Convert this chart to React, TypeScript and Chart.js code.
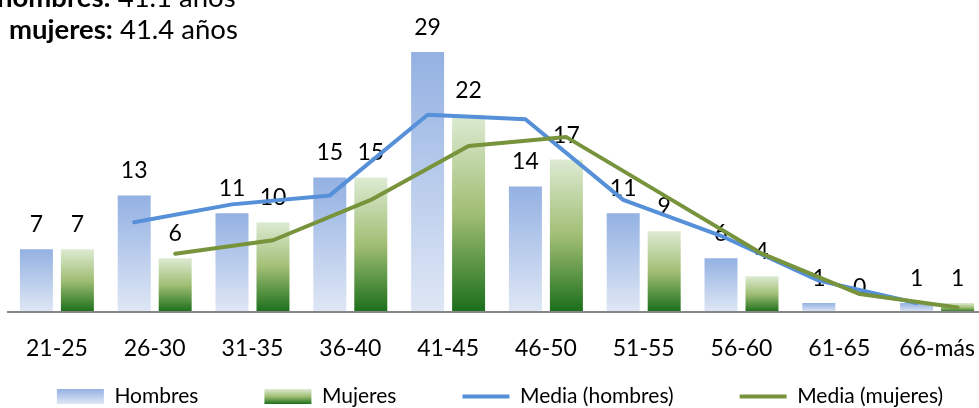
import React, { useEffect, useRef } from 'react';
import { Chart, registerables } from 'chart.js';

Chart.register(...registerables);

// ---- data ----
const categories = ['21-25', '26-30', '31-35', '36-40', '41-45', '46-50', '51-55', '56-60', '61-65', '66-más'];
const hombres = [7, 13, 11, 15, 29, 14, 11, 6, 1, 1];
const mujeres = [7, 6, 10, 15, 22, 17, 9, 4, 0, 1];
const mediaHombres = [null, 10, 12, 13, 22, 21.5, 12.5, 8.5, 3.5, 1];
const mediaMujeres = [null, 6.5, 8, 12.5, 18.5, 19.5, 13, 6.5, 2, 0.5];
const seriesNames = ['Hombres', 'Mujeres', 'Media (hombres)', 'Media (mujeres)'];
const titleBold = ['hombres:', 'mujeres:'];
const titleRest = [' 41.1 años', ' 41.4 años'];
const titleCut = ['', 'las'];

// ---- styling ----
const FONT = 'Lato, "Open Sans", sans-serif';
const SHIFT_X = 20;
const CANVAS_W = 1040;
const CANVAS_H = 417;
const LEGEND_GAP = '        '; // extra spacing after legend entries
const BLUE_STOPS: [number, string][] = [[0, '#93B1E2'], [1, '#DFE7F5']];
const GREEN_STOPS: [number, string][] = [[0, '#DDEBD3'], [0.5, '#A1BE74'], [1, '#1A6E1A']];
const BLUE_LINE = '#5590D8';
const GREEN_LINE = '#77933C';

function makeGradient(ctx: CanvasRenderingContext2D, top: number, bottom: number, stops: [number, string][]) {
  const g = ctx.createLinearGradient(0, top, 0, bottom);
  stops.forEach(([o, c]) => g.addColorStop(o, c));
  return g;
}

export default function App() {
  const ref = useRef<HTMLCanvasElement>(null);

  useEffect(() => {
    const canvas = ref.current!;

    const fillFor = (stops: [number, string][]) => (ctx: any) => {
      const chart = ctx.chart;
      if (ctx.type !== 'data' || !chart.chartArea || !ctx.parsed) return stops[0][1];
      const ys = chart.scales.y;
      const top = ys.getPixelForValue(ctx.parsed.y);
      const base = ys.getPixelForValue(0);
      if (base - top < 1) return stops[0][1];
      return makeGradient(chart.ctx, top, base, stops);
    };

    const alignLines = {
      id: 'alignLines',
      afterDatasetsUpdate(chart: any) {
        const pairs = [[2, 0], [3, 1]];
        for (const [li, bi] of pairs) {
          const lm = chart.getDatasetMeta(li);
          const bm = chart.getDatasetMeta(bi);
          lm.data.forEach((pt: any, i: number) => {
            const bar = bm.data[i];
            if (bar) pt.x = bar.x;
          });
        }
      },
    };

    const barLabels = {
      id: 'barLabels',
      afterDatasetDraw(chart: any, args: any) {
        if (args.index > 1) return;
        const ctx = chart.ctx;
        const values = chart.data.datasets[args.index].data;
        ctx.save();
        ctx.font = `23px ${FONT}`;
        ctx.fillStyle = '#000';
        ctx.textAlign = 'center';
        ctx.textBaseline = 'alphabetic';
        args.meta.data.forEach((bar: any, j: number) => {
          ctx.fillText(String(values[j]), bar.x, bar.y - 17);
        });
        ctx.restore();
      },
    };

    const legendFill = {
      id: 'legendFill',
      beforeDraw(chart: any) {
        const lg = chart.legend;
        if (!lg || !lg.legendItems) return;
        const fs = 21;
        lg.legendItems.forEach((item: any, i: number) => {
          const hb = lg.legendHitBoxes[i];
          if (!hb || item.datasetIndex > 1) return;
          const cy = hb.top + fs / 2;
          item.fillStyle = makeGradient(chart.ctx, cy - 7.5, cy + 7.5, item.datasetIndex === 0 ? BLUE_STOPS : GREEN_STOPS);
        });
      },
    };

    const titleText = {
      id: 'titleText',
      afterDraw(chart: any) {
        const ctx = chart.ctx;
        ctx.save();
        ctx.fillStyle = '#000';
        ctx.textBaseline = 'alphabetic';
        const xs = [-3, 9];
        const ys = [7, 39];
        for (let i = 0; i < 2; i++) {
          const x0 = SHIFT_X + xs[i];
          ctx.font = `bold 27.5px ${FONT}`;
          if (titleCut[i]) {
            ctx.textAlign = 'right';
            ctx.fillText(titleCut[i], x0 - 10, ys[i]);
          }
          ctx.textAlign = 'left';
          ctx.fillText(titleBold[i], x0, ys[i]);
          const w = ctx.measureText(titleBold[i]).width;
          ctx.font = `27.5px ${FONT}`;
          ctx.fillText(titleRest[i], x0 + w, ys[i]);
        }
        ctx.restore();
      },
    };

    const chart = new Chart(canvas, {
      data: {
        labels: categories,
        datasets: [
          {
            type: 'bar',
            label: seriesNames[0],
            data: hombres,
            backgroundColor: fillFor(BLUE_STOPS),
            borderWidth: 0,
            categoryPercentage: 0.838,
            barPercentage: 0.805,
            order: 2,
          },
          {
            type: 'bar',
            label: seriesNames[1],
            data: mujeres,
            backgroundColor: fillFor(GREEN_STOPS),
            borderWidth: 0,
            categoryPercentage: 0.838,
            barPercentage: 0.805,
            order: 2,
          },
          {
            type: 'line',
            label: seriesNames[2],
            data: mediaHombres as any,
            borderColor: BLUE_LINE,
            backgroundColor: BLUE_LINE,
            borderWidth: 4,
            pointRadius: 0,
            tension: 0,
            fill: false,
            borderJoinStyle: 'round',
            borderCapStyle: 'round',
            order: 1,
          },
          {
            type: 'line',
            label: seriesNames[3],
            data: mediaMujeres as any,
            borderColor: GREEN_LINE,
            backgroundColor: GREEN_LINE,
            borderWidth: 4,
            pointRadius: 0,
            tension: 0,
            fill: false,
            borderJoinStyle: 'round',
            borderCapStyle: 'round',
            order: 0,
          },
        ],
      } as any,
      options: {
        responsive: false,
        animation: false,
        devicePixelRatio: 1,
        events: [],
        layout: { padding: { top: 25, left: 0, right: 0, bottom: 0 } },
        scales: {
          x: {
            grid: { display: false, drawTicks: false },
            border: { display: true, color: '#868686', width: 2, z: 1 },
            ticks: {
              font: { family: FONT, size: 23 },
              color: '#000',
              padding: 23,
              maxRotation: 0,
              autoSkip: false,
            },
            afterFit: (s: any) => {
              s.height = 51;
            },
          },
          y: {
            min: 0,
            max: 32,
            grid: { display: false },
            border: { display: false },
            ticks: { display: false },
            afterFit: (s: any) => {
              s.width = 28;
            },
          },
          y2: {
            type: 'linear',
            position: 'right',
            grid: { display: false },
            border: { display: false },
            ticks: { display: false },
            afterFit: (s: any) => {
              s.width = 34;
            },
          },
        },
        plugins: {
          tooltip: { enabled: false },
          title: { display: false },
          legend: {
            position: 'bottom',
            labels: {
              usePointStyle: true,
              pointStyleWidth: 47,
              boxWidth: 47,
              boxHeight: 15,
              padding: 23,
              color: '#000',
              font: { family: FONT, size: 21 },
              sort: (a: any, b: any) => a.datasetIndex - b.datasetIndex,
              generateLabels: (ch: any) =>
                (Chart.defaults.plugins.legend.labels.generateLabels as any)(ch).map((item: any) => {
                  const isLine = item.datasetIndex >= 2;
                  const col = item.datasetIndex === 2 ? BLUE_LINE : GREEN_LINE;
                  return {
                    ...item,
                    text: item.datasetIndex < 3 ? item.text + LEGEND_GAP : item.text,
                    pointStyle: isLine ? 'line' : 'rect',
                    lineWidth: isLine ? 4 : 0,
                    strokeStyle: isLine ? col : 'rgba(0,0,0,0)',
                    fillStyle: isLine ? col : item.datasetIndex === 0 ? BLUE_STOPS[0][1] : GREEN_STOPS[1][1],
                    fontColor: '#000',
                  };
                }),
            },
          },
        },
      } as any,
      plugins: [alignLines, barLabels, legendFill, titleText],
    });

    return () => chart.destroy();
  }, []);

  return (
    <div
      style={{
        position: 'absolute',
        left: 0,
        top: 0,
        width: 979,
        height: 408,
        overflow: 'hidden',
        background: '#fff',
      }}
    >
      <canvas
        ref={ref}
        width={CANVAS_W}
        height={CANVAS_H}
        style={{ position: 'absolute', left: -SHIFT_X, top: 0, width: CANVAS_W, height: CANVAS_H }}
      />
    </div>
  );
}
